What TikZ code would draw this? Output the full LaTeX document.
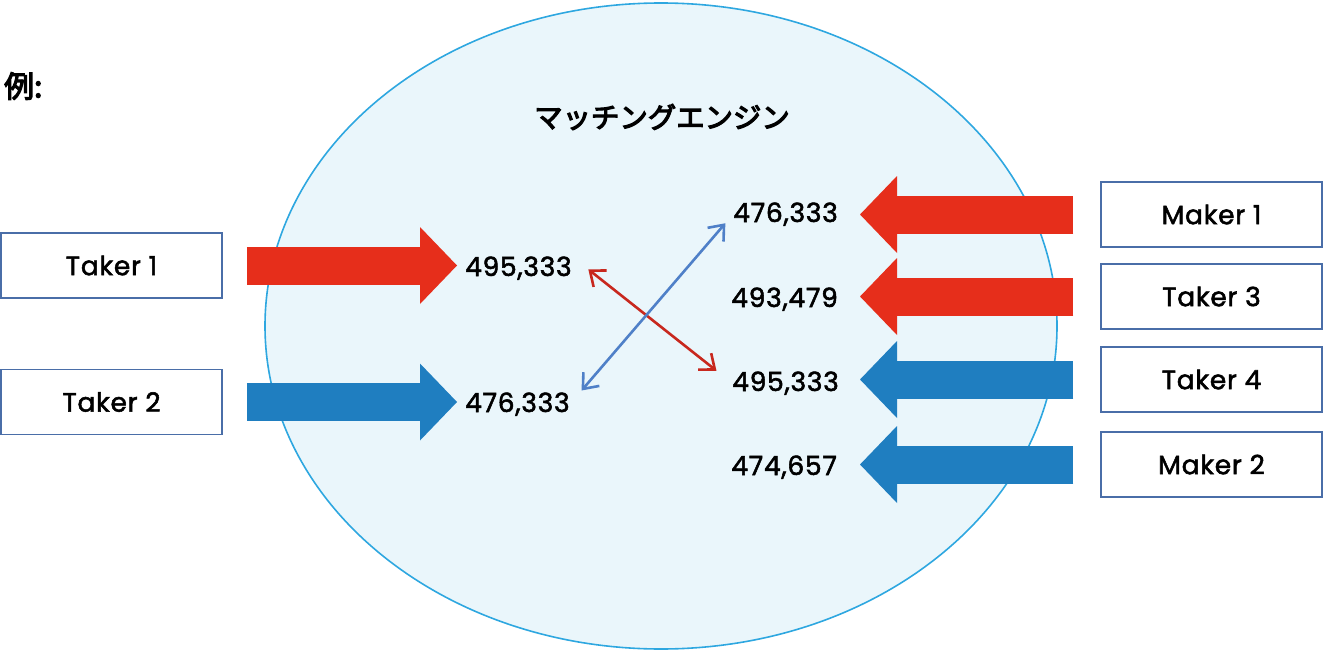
\documentclass[tikz,border=0pt]{standalone}
\usepackage{fontspec}
\setmainfont{Poppins}[FakeBold=2,LetterSpace=3]
\newfontfamily\jp{Noto Sans CJK JP}[AutoFakeBold=4]
\usetikzlibrary{arrows.meta}

\definecolor{ringblue}{HTML}{2EA7E0}
\definecolor{ringfill}{HTML}{EAF6FB}
\definecolor{boxblue}{HTML}{4A6EA8}
\definecolor{arrowred}{HTML}{E62E1B}
\definecolor{arrowblue}{HTML}{1F7EC0}
\definecolor{linkred}{HTML}{C8281E}
\definecolor{linkblue}{HTML}{4F80C8}

\begin{document}
\begin{tikzpicture}[x=1bp,y=-1bp,
  party/.style={draw=boxblue,line width=1.5bp,fill=white,minimum width=221bp,minimum height=65bp,font=\fontsize{26.5}{30}\selectfont},
  price/.style={inner sep=0pt,font=\fontsize{26.5}{30}\selectfont},
  bigred/.style={draw=arrowred,line width=38bp,-{Triangle[width=77bp,length=37bp,line width=0pt]}},
  bigblue/.style={draw=arrowblue,line width=38bp,-{Triangle[width=77bp,length=37bp,line width=0pt]}},
  link/.style={line width=2.6bp,{Straight Barb[length=13bp,width=21bp]}-{Straight Barb[length=13bp,width=21bp]}}
]
\useasboundingbox (0,0) rectangle (1325,650);

% Engine
\draw[draw=ringblue,fill=ringfill,line width=1.6bp] (661,326) ellipse [x radius=396, y radius=323];
\node[font=\jp\bfseries\fontsize{30}{34}\selectfont,anchor=west,inner sep=0pt] (ex) at (4,86) {例:};
\node[font=\jp\bfseries\fontsize{28.5}{32}\selectfont] (title) at (662,117) {マッチングエンジン};

% Takers (left)
\node[party] (t1) at (111.5,265.5) {Taker\ 1};
\node[party] (t2) at (111.5,402) {Taker\ 2};
\node[price,anchor=base west] (l1) at (465,276) {495,333};
\node[price,anchor=base west] (l2) at (465,412) {476,333};
\draw[bigred] (t1.east) -- (t1.east -| l1.west) [shorten <=24bp, shorten >=8bp];
\draw[bigblue] (t2.east) -- (t2.east -| l2.west) [shorten <=24bp, shorten >=8bp];

% Orders (right)
\node[party] (m1) at (1211.5,214.5) {Maker\ 1};
\node[party] (t3) at (1211.5,296.5) {Taker\ 3};
\node[party] (t4) at (1211.5,379.5) {Taker\ 4};
\node[party] (m2) at (1211.5,464.5) {Maker\ 2};
\node[price,anchor=base east] (r1) at (838,222) {476,333};
\node[price,anchor=base east] (r2) at (838,307) {493,479};
\node[price,anchor=base east] (r3) at (839,391) {495,333};
\node[price,anchor=base east] (r4) at (837,475) {474,657};
\draw[bigred] (m1.west) -- (m1.west -| r1.east) [shorten <=27bp, shorten >=22bp];
\draw[bigred] (t3.west) -- (t3.west -| r2.east) [shorten <=27bp, shorten >=22bp];
\draw[bigblue] (t4.west) -- (t4.west -| r3.east) [shorten <=27bp, shorten >=21bp];
\draw[bigblue] (m2.west) -- (m2.west -| r4.east) [shorten <=27bp, shorten >=23bp];

% Matches
\draw[link,linkred] (l1.north east) -- (r3.west) [shorten <=21bp, shorten >=20bp];
\draw[link,linkblue] (l2.east) -- (r1.west) [shorten <=18bp, shorten >=12bp];

\end{tikzpicture}
\end{document}
